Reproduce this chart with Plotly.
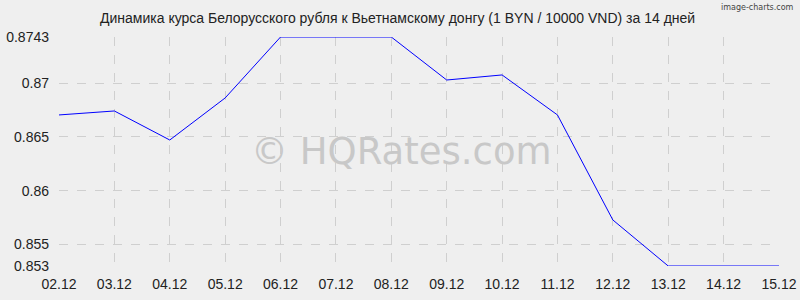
import plotly.graph_objects as go

dates = ["02.12", "03.12", "04.12", "05.12", "06.12", "07.12", "08.12",
         "09.12", "10.12", "11.12", "12.12", "13.12", "14.12", "15.12"]
rates = [0.86705, 0.86742, 0.86472, 0.86863, 0.8743, 0.8743, 0.8743,
         0.8703, 0.87077, 0.86705, 0.85728, 0.853, 0.853, 0.853]
y_ticks = [0.853, 0.855, 0.86, 0.865, 0.87, 0.8743]
y_labels = ["0.853", "0.855", "0.86", "0.865", "0.87", "0.8743"]
title = "Динамика курса Белорусского рубля к Вьетнамскому донгу (1 BYN / 10000 VND) за 14 дней"

fig = go.Figure()
fig.add_trace(go.Scatter(x=list(range(len(dates))), y=rates, mode="lines",
                         line=dict(color="#0000ff", width=1), hoverinfo="skip"))

grid = dict(showgrid=True, gridcolor="#cfcfcf", griddash="dash", gridwidth=1,
            zeroline=False, showline=False, ticks="", automargin=False)
fig.update_layout(
    width=800, height=300,
    margin=dict(l=59, r=21, t=37, b=34, autoexpand=False),
    paper_bgcolor="#efefef", plot_bgcolor="#efefef",
    showlegend=False,
    font=dict(family="Liberation Sans, Arial, sans-serif", size=14, color="#222222"),
    title=dict(text=title, x=0.497, xanchor="center", y=0.94, yanchor="middle",
               font=dict(size=14, color="#222222")),
    xaxis=dict(range=[0, len(dates) - 1], tickmode="array",
               tickvals=list(range(len(dates))), ticktext=dates,
               ticklabelstandoff=8, **grid),
    yaxis=dict(range=[0.853, 0.8743], tickmode="array", tickvals=y_ticks,
               ticktext=y_labels, ticklabelstandoff=9, **grid),
)
fig.add_annotation(text="© HQRates.com", x=0.475, y=0.5, xref="paper", yref="paper",
                   showarrow=False, font=dict(size=37, color="#c8c8c8",
                                               family="DejaVu Sans, sans-serif"))
fig.add_annotation(text="image-charts.com", xref="paper", yref="paper",
                   x=1.0236, y=1.127, xanchor="right", yanchor="middle",
                   showarrow=False, font=dict(size=8, color="#444444",
                                              family="DejaVu Sans, sans-serif"))
fig.write_html("out.html")
